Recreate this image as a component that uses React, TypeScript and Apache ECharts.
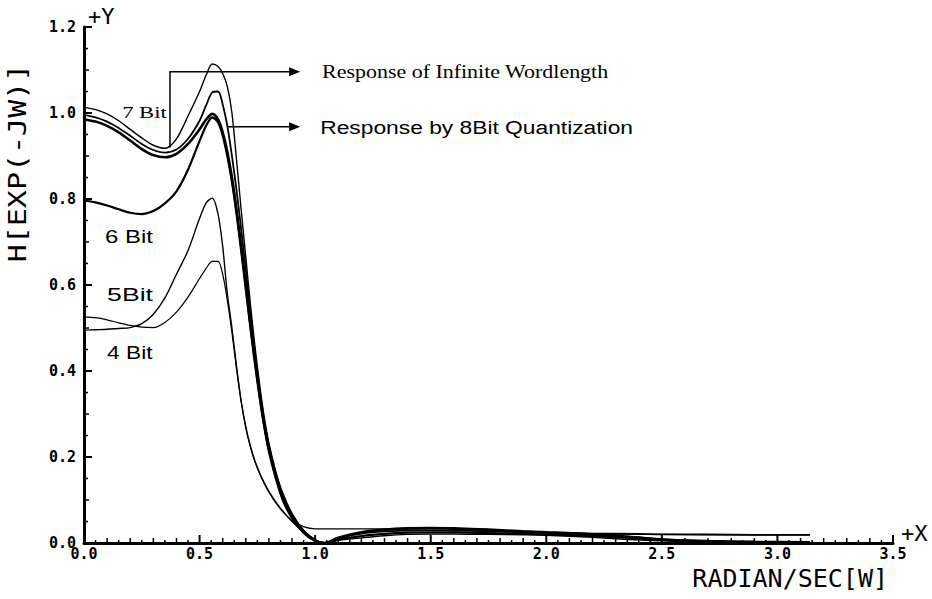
import React, { useEffect, useRef } from "react";
import * as echarts from "echarts";

// Frequency grid (radian/sec)
const xs = [0, 0.05, 0.1, 0.15, 0.2, 0.25, 0.3, 0.35, 0.4, 0.45, 0.5, 0.53, 0.555, 0.58, 0.6, 0.62, 0.64, 0.66, 0.68, 0.7, 0.72, 0.74, 0.76, 0.78, 0.8, 0.83, 0.86, 0.9, 0.95, 1.0, 1.04, 1.1, 1.2, 1.3, 1.4, 1.5, 1.6, 1.75, 1.9, 2.0, 2.2, 2.4, 2.5, 2.7, 2.9, 3.14];

// |H(exp(-jw))| curves
const curveTop = [1.013, 1.008, 0.998, 0.982, 0.962, 0.942, 0.925, 0.918, 0.94, 0.993, 1.05, 1.09, 1.114, 1.108, 1.092, 1.062, 1.0, 0.89, 0.775, 0.665, 0.555, 0.455, 0.368, 0.292, 0.232, 0.166, 0.116, 0.069, 0.03, 0.008, 0.0, 0.01, 0.024, 0.03, 0.033, 0.034, 0.033, 0.03, 0.026, 0.024, 0.021, 0.014, 0.009, 0.004, 0.001, 0.0];
const curve7Bit = [0.995, 0.99, 0.98, 0.965, 0.947, 0.928, 0.914, 0.908, 0.915, 0.94, 0.982, 1.02, 1.048, 1.05, 1.02, 0.97, 0.9, 0.82, 0.73, 0.635, 0.535, 0.44, 0.355, 0.283, 0.225, 0.16, 0.11, 0.065, 0.028, 0.007, 0.0, 0.011, 0.022, 0.027, 0.029, 0.03, 0.029, 0.027, 0.025, 0.024, 0.022, 0.021, 0.02, 0.02, 0.019, 0.019];
const curve8Bit = [0.985, 0.98, 0.97, 0.955, 0.936, 0.916, 0.902, 0.897, 0.905, 0.928, 0.962, 0.986, 0.998, 0.985, 0.955, 0.91, 0.85, 0.775, 0.69, 0.6, 0.51, 0.425, 0.345, 0.275, 0.218, 0.155, 0.105, 0.06, 0.025, 0.005, 0.0, 0.012, 0.025, 0.031, 0.034, 0.035, 0.034, 0.031, 0.027, 0.025, 0.02, 0.012, 0.008, 0.003, 0.001, 0.0];
const curve6Bit = [0.797, 0.792, 0.785, 0.776, 0.768, 0.765, 0.772, 0.79, 0.818, 0.868, 0.935, 0.972, 0.99, 0.978, 0.948, 0.9, 0.84, 0.765, 0.68, 0.59, 0.5, 0.415, 0.338, 0.27, 0.213, 0.15, 0.1, 0.058, 0.024, 0.005, 0.0, 0.008, 0.016, 0.021, 0.024, 0.025, 0.025, 0.023, 0.021, 0.02, 0.016, 0.011, 0.008, 0.005, 0.003, 0.002];
const curve5Bit = [0.495, 0.496, 0.497, 0.499, 0.501, 0.51, 0.532, 0.57, 0.625, 0.68, 0.755, 0.792, 0.802, 0.765, 0.69, 0.58, 0.5, 0.41, 0.33, 0.27, 0.225, 0.19, 0.163, 0.14, 0.12, 0.095, 0.074, 0.05, 0.025, 0.005, 0.0, 0.006, 0.012, 0.017, 0.02, 0.021, 0.021, 0.02, 0.019, 0.018, 0.013, 0.007, 0.005, 0.003, 0.003, 0.003];
const curve4Bit = [0.526, 0.524, 0.519, 0.512, 0.506, 0.502, 0.501, 0.513, 0.537, 0.572, 0.615, 0.64, 0.655, 0.655, 0.625, 0.565, 0.49, 0.405, 0.328, 0.268, 0.223, 0.188, 0.161, 0.138, 0.118, 0.093, 0.073, 0.052, 0.038, 0.033, 0.033, 0.033, 0.033, 0.033, 0.034, 0.034, 0.033, 0.031, 0.027, 0.025, 0.022, 0.02, 0.02, 0.019, 0.019, 0.019];

const xTicks = [0, 0.5, 1.0, 1.5, 2.0, 2.5, 3.0, 3.5];
const yTicks = [0, 0.2, 0.4, 0.6, 0.8, 1.0, 1.2];

const MONO = "'DejaVu Sans Mono', monospace";
const SERIF = "'Liberation Serif', serif";
const SANS = "'Liberation Sans', sans-serif";

export default function App() {
  const ref = useRef<HTMLDivElement>(null);
  useEffect(() => {
    const chart = echarts.init(ref.current!, null, { renderer: "svg" });
    const mk = (ys: number[]) => xs.map((x, i) => [x, ys[i]]);
    const line = (name: string, ys: number[], width: number) => ({
      type: "line",
      name,
      data: mk(ys),
      symbol: "none",
      showSymbol: false,
      smooth: 0.3,
      silent: true,
      lineStyle: { color: "#000", width },
      z: 3,
    });
    const xMin = xTicks[0];
    const xMax = xTicks[xTicks.length - 1];
    const yMin = yTicks[0];
    const yMax = yTicks[yTicks.length - 1];
    chart.setOption({
      animation: false,
      backgroundColor: "#fff",
      grid: { left: 84, right: 39, top: 27, bottom: 56 },
      xAxis: {
        type: "value",
        min: xMin,
        max: xMax,
        interval: 0.5,
        axisLine: { lineStyle: { color: "#000", width: 3 } },
        axisTick: { show: false },
        minorTick: { show: false },
        splitLine: { show: false },
        axisLabel: {
          color: "#000",
          fontFamily: MONO,
          fontWeight: "bold",
          fontSize: 15,
          margin: 3,
          formatter: (v: number) => v.toFixed(1),
        },
      },
      yAxis: {
        type: "value",
        min: yMin,
        max: yMax,
        interval: 0.2,
        axisLine: { show: true, lineStyle: { color: "#000", width: 3 } },
        axisTick: { show: false },
        minorTick: { show: false },
        splitLine: { show: false },
        axisLabel: {
          color: "#000",
          fontFamily: MONO,
          fontWeight: "bold",
          fontSize: 15,
          margin: 8,
          formatter: (v: number) => v.toFixed(1),
        },
      },
      series: [
        line("Infinite", curveTop, 1.4),
        line("7 Bit", curve7Bit, 1.8),
        line("8 Bit", curve8Bit, 2.6),
        line("6 Bit", curve6Bit, 2.2),
        line("5 Bit", curve5Bit, 1.4),
        line("4 Bit", curve4Bit, 1.2),
      ],
    });

    const p = (x: number, y: number) => chart.convertToPixel({ gridIndex: 0 }, [x, y]) as number[];
    const graphics: any[] = [];

    // axis ticks (drawn inward, three lengths)
    const nx = Math.round((xMax - xMin) / 0.05);
    for (let i = 0; i <= nx; i++) {
      const q = p(xMin + i * 0.05, yMin);
      const len = i % 10 === 0 ? 8 : i % 2 === 0 ? 5 : 3;
      graphics.push({
        type: "line",
        shape: { x1: q[0], y1: q[1], x2: q[0], y2: q[1] - len },
        style: { stroke: "#000", lineWidth: i % 10 === 0 ? 2 : 1.5 },
        z: 5,
      });
    }
    const ny = Math.round((yMax - yMin) / 0.025);
    for (let i = 0; i <= ny; i++) {
      const q = p(xMin, yMin + i * 0.025);
      const len = i % 8 === 0 ? 8 : i % 4 === 0 ? 5 : i % 2 === 0 ? 4 : 2;
      graphics.push({
        type: "line",
        shape: { x1: q[0], y1: q[1], x2: q[0] + len, y2: q[1] },
        style: { stroke: "#000", lineWidth: i % 8 === 0 ? 2 : 1.5 },
        z: 5,
      });
    }

    const b0 = p(0.372, 0.92);
    const b1 = p(0.372, 1.096);
    const a1 = p(0.935, 1.096);
    const c0 = p(0.619, 0.968);
    const c1 = p(0.935, 0.968);
    const origin = p(0, 0);
    const yTop = p(0, 1.2);
    const xEnd = p(3.5, 0);
    const head = (tip: number[]) => ({
      type: "polygon",
      shape: { points: [[tip[0], tip[1]], [tip[0] - 11, tip[1] - 4.5], [tip[0] - 11, tip[1] + 4.5]] },
      style: { fill: "#000" },
      z: 10,
    });
    const txt = (text: string, x: number, y: number, font: string, size: number, sx = 1, weight = "normal") => ({
      type: "text",
      x,
      y,
      scaleX: sx,
      style: { text, fill: "#000", font: `${weight} ${size}px ${font}`, textAlign: "left", textVerticalAlign: "middle" },
      z: 10,
    });
    const t7 = p(0.165, 1.002);
    const t6 = p(0.091, 0.713);
    const t5 = p(0.1, 0.577);
    const t4 = p(0.1, 0.444);
    const r1 = p(1.03, 1.096);
    const r2 = p(1.022, 0.968);
    graphics.push(
      {
        type: "polyline",
        shape: { points: [b0, b1, [a1[0] - 8, a1[1]]] },
        style: { stroke: "#000", lineWidth: 1.5, fill: "none" },
        z: 10,
      },
      head(a1),
      {
        type: "line",
        shape: { x1: c0[0], y1: c0[1], x2: c1[0] - 8, y2: c1[1] },
        style: { stroke: "#000", lineWidth: 1.5 },
        z: 10,
      },
      head(c1),
      txt("Response of Infinite Wordlength", r1[0], r1[1], SERIF, 18, 1.22),
      txt("Response by 8Bit Quantization", r2[0], r2[1], SANS, 19, 1.2),
      txt("7 Bit", t7[0], t7[1], SERIF, 17, 1.33),
      txt("6 Bit", t6[0], t6[1], SANS, 18, 1.33),
      txt("5Bit", t5[0], t5[1], SANS, 19, 1.4),
      txt("4 Bit", t4[0], t4[1], SANS, 18, 1.26),
      {
        type: "text",
        x: origin[0] + 4,
        y: yTop[1] - 11,
        style: { text: "+Y", fill: "#000", font: `normal 22px ${MONO}`, textAlign: "left", textVerticalAlign: "middle" },
        z: 10,
      },
      {
        type: "text",
        x: xEnd[0] + 8,
        y: xEnd[1] - 10,
        style: { text: "+X", fill: "#000", font: `normal 22px ${MONO}`, textAlign: "left", textVerticalAlign: "middle" },
        z: 10,
      },
      {
        type: "text",
        x: xEnd[0] - 5,
        y: origin[1] + 35,
        style: { text: "RADIAN/SEC[W]", fill: "#000", font: `normal 25px ${MONO}`, textAlign: "right", textVerticalAlign: "middle" },
        z: 10,
      },
      {
        type: "text",
        x: 18,
        y: 163,
        rotation: Math.PI / 2,
        scaleX: 1.25,
        style: { text: "H[EXP(-JW)]", fill: "#000", font: `normal 24px ${MONO}`, textAlign: "center", textVerticalAlign: "middle" },
        z: 10,
      }
    );
    chart.setOption({ graphic: graphics });
    return () => chart.dispose();
  }, []);
  return (
    <div
      ref={ref}
      style={{ position: "fixed", left: 0, top: 0, width: 932, height: 599, background: "#fff" }}
    />
  );
}
